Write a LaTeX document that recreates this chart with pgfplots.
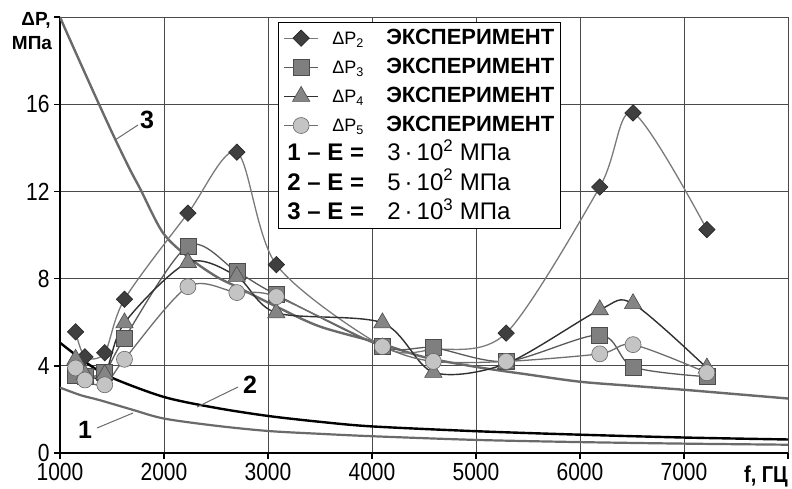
\documentclass[border=0pt]{standalone}
\usepackage{pgfplots}
\pgfplotsset{compat=1.18}
\usepackage{fontspec}
\setmainfont{Liberation Sans}
\definecolor{lineP2}{HTML}{7A7A7A}
\definecolor{lineP3}{HTML}{5A5A5A}
\definecolor{lineP4}{HTML}{303030}
\definecolor{lineP5}{HTML}{6E6E6E}
\definecolor{mkP2}{HTML}{3F3F3F}
\definecolor{mkP3}{HTML}{7F7F7F}
\definecolor{mkP4}{HTML}{858585}
\definecolor{mkP5}{HTML}{C4C4C4}
\definecolor{gridc}{HTML}{4A4A4A}
\definecolor{theo}{HTML}{6A6A6A}
\begin{document}
\begin{tikzpicture}
\useasboundingbox (-60pt,-35pt) rectangle (732pt,453pt);
\begin{axis}[
  scale only axis, width=728pt, height=436pt,
  xmin=1000, xmax=8000, ymin=0, ymax=20,
  xtick={1000,2000,3000,4000,5000,6000,7000,8000},
  ytick={0,4,8,12,16,20},
  scaled x ticks=false, scaled y ticks=false,
  /pgf/number format/assume math mode=true,
  /pgf/number format/1000 sep={},
  xticklabel={\ifdim\tick pt>7500pt\else\scalebox{1}[1.18]{\pgfmathprintnumber[fixed,precision=0]{\tick}}\fi},
  yticklabel={\ifdim\tick pt>18pt\else\scalebox{1}[1.18]{\pgfmathprintnumber[fixed,precision=0]{\tick}}\fi},
  grid=major, major grid style={color=gridc, line width=0.8pt},
  axis lines*=left, axis line style={line width=2.4pt, black},
  tick align=outside, major tick length=6pt,
  tick style={black, line width=1.4pt},
  ticklabel style={font=\fontsize{21}{25}\selectfont},
  xticklabel style={yshift=-4pt, inner ysep=0pt},
  yticklabel style={xshift=-1pt, inner ysep=0pt},
  legend image code/.code={\draw[mark repeat=2,mark phase=2,#1] plot coordinates {(0pt,0pt) (17pt,0pt) (34pt,0pt)}; \path (46pt,0pt);},
  legend style={at={(rel axis cs:0.2995,0.9885)}, anchor=north west, draw=black, line width=0.8pt, fill=white,
    inner xsep=5pt, inner ysep=3pt, row sep=3.5pt,
    font=\fontsize{22}{26}\selectfont,
    nodes={text height=17.6pt, text depth=5pt, inner sep=1.5pt}},
  legend cell align=left,
]
% theoretical curves
\addplot[forget plot, smooth, no markers, color=theo, line width=2.2pt] table {
1000 3.0
1200 2.65
1385 2.42
1700 1.98
2000 1.58
2500 1.25
3000 1.01
3500 0.88
4000 0.77
5000 0.60
6000 0.50
7000 0.43
8000 0.38
};
\addplot[forget plot, smooth, no markers, color=black, line width=2.4pt] table {
1000 5.06
1250 4.15
1500 3.45
2000 2.57
2500 2.07
3000 1.70
3500 1.43
4000 1.22
5000 1.00
6000 0.84
7000 0.71
8000 0.62
};
\addplot[forget plot, smooth, no markers, color=theo, line width=2.4pt] table {
1000 20.0
1050 19.45
1200 17.85
1375 16.0
1530 14.4
1673 13.0
1773 12.1
1990 10.1
2237 8.97
2500 8.1
2710 7.6
3087 6.7
3500 5.8
4063 5.05
4500 4.4
5000 3.95
5500 3.6
6000 3.27
6500 3.08
7000 2.9
7500 2.7
8000 2.5
};
% experimental series
\addplot[smooth, tension=0.5, color=lineP2, line width=1.3pt, mark=square*, mark size=5.8pt,
  mark options={rotate=45, fill=mkP2, draw=black!85, line width=0.6pt, solid}] table {
1150 5.56
1240 4.41
1430 4.60
1620 7.05
2230 11.0
2700 13.8
3080 8.64
4100 4.90
4590 4.75
5290 5.50
6190 12.2
6510 15.6
7220 10.25
};
\addlegendentry{\makebox[54pt][l]{\fontsize{18}{22}\selectfont ΔP\textsubscript{2}}\textbf{ЭКСПЕРИМЕНТ}}
\addplot[smooth, tension=0.5, color=lineP3, line width=1.3pt, mark=square*, mark size=8pt,
  mark options={fill=mkP3, draw=black!70, line width=0.6pt, solid}] table {
1150 3.55
1240 3.50
1430 3.72
1620 5.27
2230 9.50
2700 8.32
3080 7.26
4100 4.88
4590 4.83
5290 4.20
6190 5.42
6510 3.95
7220 3.50
};
\addlegendentry{\makebox[54pt][l]{\fontsize{18}{22}\selectfont ΔP\textsubscript{3}}\textbf{ЭКСПЕРИМЕНТ}}
\addplot[smooth, tension=0.5, color=lineP4, line width=1.4pt, mark=triangle*, mark size=10pt,
  mark options={fill=mkP4, draw=black!70, line width=0.6pt, solid}] table {
1150 4.30
1240 3.60
1430 3.60
1620 5.97
2230 8.74
2700 8.10
3080 6.43
4100 5.97
4590 3.70
5290 4.10
6190 6.57
6510 6.85
7220 3.90
};
\addlegendentry{\makebox[54pt][l]{\fontsize{18}{22}\selectfont ΔP\textsubscript{4}}\textbf{ЭКСПЕРИМЕНТ}}
\addplot[smooth, tension=0.5, color=lineP5, line width=1.3pt, mark=*, mark size=8pt,
  mark options={fill=mkP5, draw=black!60, line width=0.6pt, solid}] table {
1150 3.90
1240 3.35
1430 3.13
1620 4.30
2230 7.63
2700 7.36
3080 7.17
4100 4.88
4590 4.20
5290 4.20
6190 4.55
6510 4.97
7220 3.68
};
\addlegendentry{\makebox[54pt][l]{\fontsize{18}{22}\selectfont ΔP\textsubscript{5}}\textbf{ЭКСПЕРИМЕНТ}}
\addlegendimage{empty legend}
\addlegendentry{\hspace*{-45pt}\fontsize{24}{28}\selectfont\makebox[100pt][l]{\textbf{1 – E =}}3\,·\,10\textsuperscript{2} МПа}
\addlegendimage{empty legend}
\addlegendentry{\hspace*{-45pt}\fontsize{24}{28}\selectfont\makebox[100pt][l]{\textbf{2 – E =}}5\,·\,10\textsuperscript{2} МПа}
\addlegendimage{empty legend}
\addlegendentry{\hspace*{-45pt}\fontsize{24}{28}\selectfont\makebox[100pt][l]{\textbf{3 – E =}}2\,·\,10\textsuperscript{3} МПа}
\end{axis}
% annotations
\node[font=\fontsize{25}{28}\selectfont\bfseries] at (87pt,333pt) {3};
\draw[color=theo, line width=1pt] (78pt,328pt) -- (55pt,313pt);
\node[font=\fontsize{25}{28}\selectfont\bfseries] at (190pt,68pt) {2};
\draw[color=theo, line width=1pt] (178pt,66pt) -- (137pt,46pt);
\node[font=\fontsize{25}{28}\selectfont\bfseries] at (25pt,23pt) {1};
\draw[color=theo, line width=1pt] (37pt,25pt) -- (73pt,40pt);
\node[font=\fontsize{19}{22}\selectfont\bfseries] at (-24pt,433pt) {ΔP,};
\node[font=\fontsize{19}{22}\selectfont\bfseries] at (-28pt,410pt) {МПа};
\node[font=\fontsize{20}{24}\selectfont\bfseries] at (706pt,-23pt) {\scalebox{1}[1.15]{f, ГЦ}};
\end{tikzpicture}
\end{document}
